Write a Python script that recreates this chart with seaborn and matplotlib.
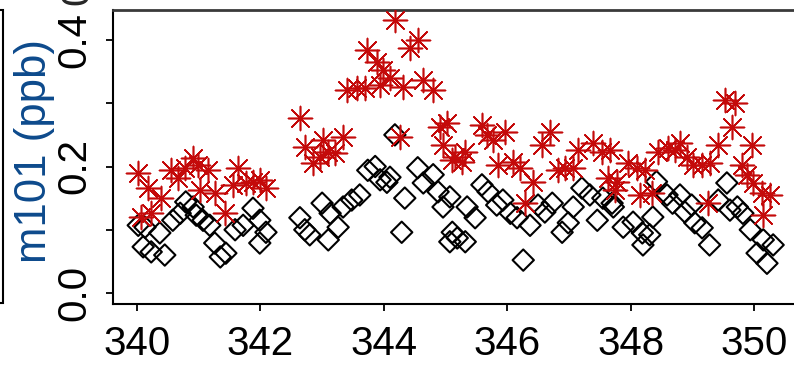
import numpy as np
import pandas as pd
import matplotlib
matplotlib.use("Agg")
import matplotlib.pyplot as plt
from matplotlib.patches import Rectangle
import seaborn as sns

# ---- data ----
red_x = [340.02, 340.06, 340.18, 340.23, 340.39, 340.55, 340.66, 340.78, 340.91, 340.99,
         341.02, 341.15, 341.26, 341.43, 341.56, 341.64, 341.77, 341.88, 341.99, 342.09,
         342.64, 342.72, 342.85, 342.97, 343.01, 343.10, 343.21, 343.34, 343.40, 343.57,
         343.70, 343.73, 343.89, 343.94, 343.99, 344.10, 344.18, 344.26, 344.31, 344.42,
         344.55, 344.64, 344.80, 344.91, 344.96, 345.02, 345.11, 345.15, 345.27, 345.32,
         345.59, 345.67, 345.77, 345.85, 345.96, 346.09, 346.21, 346.29, 346.42, 346.56,
         346.69, 346.82, 346.93, 347.07, 347.15, 347.39, 347.54, 347.63, 347.67, 347.75,
         347.78, 347.96, 348.10, 348.15, 348.23, 348.35, 348.44, 348.61, 348.72, 348.80,
         348.91, 349.01, 349.16, 349.25, 349.28, 349.42, 349.53, 349.64, 349.69, 349.81,
         349.89, 349.97, 349.98, 350.13, 350.15, 350.26]
red_y = [0.190, 0.120, 0.166, 0.126, 0.150, 0.194, 0.182, 0.198, 0.213, 0.202,
         0.163, 0.194, 0.158, 0.126, 0.171, 0.198, 0.174, 0.175, 0.179, 0.166,
         0.277, 0.231, 0.205, 0.215, 0.242, 0.223, 0.221, 0.247, 0.321, 0.324,
         0.324, 0.384, 0.365, 0.329, 0.353, 0.340, 0.432, 0.247, 0.326, 0.387,
         0.400, 0.337, 0.321, 0.262, 0.234, 0.269, 0.210, 0.215, 0.207, 0.223,
         0.266, 0.250, 0.242, 0.202, 0.255, 0.207, 0.198, 0.142, 0.175, 0.234,
         0.255, 0.194, 0.198, 0.198, 0.226, 0.237, 0.223, 0.182, 0.226, 0.163,
         0.176, 0.205, 0.198, 0.155, 0.194, 0.158, 0.223, 0.229, 0.226, 0.237,
         0.215, 0.202, 0.202, 0.142, 0.205, 0.234, 0.305, 0.262, 0.300, 0.202,
         0.187, 0.234, 0.174, 0.158, 0.123, 0.155]

black_x = [340.02, 340.10, 340.13, 340.23, 340.37, 340.45, 340.58, 340.70, 340.79, 340.91,
           340.96, 341.07, 341.18, 341.26, 341.35, 341.44, 341.59, 341.72, 341.88, 341.99,
           341.99, 342.09,
           342.64, 342.72, 342.80, 343.00, 343.10, 343.13, 343.26, 343.34, 343.48, 343.61,
           343.74, 343.86, 343.94, 344.05, 344.10, 344.18, 344.29, 344.34, 344.55, 344.64,
           344.80, 344.88, 344.96, 345.07, 345.07, 345.11, 345.19, 345.32, 345.35, 345.48,
           345.59, 345.69, 345.83, 345.93, 346.05, 346.16, 346.26, 346.37, 346.50, 346.61,
           346.73, 346.89, 346.99, 347.07, 347.21, 347.34, 347.46, 347.55, 347.70, 347.72,
           347.88, 348.04, 348.19, 348.20, 348.31, 348.36, 348.42, 348.59, 348.68, 348.80,
           348.88, 348.99, 349.04, 349.16, 349.28, 349.42, 349.56, 349.61, 349.73, 349.82,
           349.94, 350.05, 350.15, 350.21, 350.31]
black_y = [0.107, 0.073, 0.104, 0.065, 0.095, 0.060, 0.115, 0.126, 0.144, 0.136,
           0.123, 0.115, 0.107, 0.079, 0.057, 0.063, 0.100, 0.107, 0.134, 0.115,
           0.079, 0.096,
           0.119, 0.100, 0.092, 0.142, 0.084, 0.126, 0.104, 0.136, 0.147, 0.155,
           0.194, 0.200, 0.179, 0.175, 0.183, 0.250, 0.096, 0.150, 0.198, 0.174,
           0.187, 0.160, 0.136, 0.081, 0.152, 0.096, 0.087, 0.081, 0.136, 0.119,
           0.171, 0.160, 0.139, 0.147, 0.126, 0.119, 0.052, 0.107, 0.139, 0.128,
           0.142, 0.096, 0.111, 0.136, 0.166, 0.155, 0.115, 0.150, 0.142, 0.136,
           0.104, 0.112, 0.095, 0.076, 0.092, 0.120, 0.176, 0.155, 0.142, 0.155,
           0.128, 0.139, 0.111, 0.103, 0.076, 0.147, 0.174, 0.131, 0.136, 0.126,
           0.100, 0.063, 0.084, 0.047, 0.076]

x_ticks = [340, 342, 344, 346, 348, 350]
y_ticks = [0.0, 0.1, 0.2, 0.3, 0.4]
y_tick_labels = ["0.0", "", "0.2", "", "0.4"]
y_label = "m101 (ppb)"

red_df = pd.DataFrame({"x": red_x, "y": red_y})
black_df = pd.DataFrame({"x": black_x, "y": black_y})

# ---- figure ----
sns.set_style("ticks")
plt.rcParams["font.family"] = ["Liberation Sans", "DejaVu Sans"]

W, H = 794, 367
fig = plt.figure(figsize=(W / 100, H / 100), dpi=100)
left_px, right_px, top_px, bot_px = 113, 800, 10, 304
ax = fig.add_axes([left_px / W, 1 - bot_px / H, (right_px - left_px) / W, (bot_px - top_px) / H])

sns.scatterplot(data=black_df, x="x", y="y", ax=ax, marker="D", s=118,
                facecolors="none", edgecolor="black", linewidth=1.5, zorder=3)
sns.scatterplot(data=red_df, x="x", y="y", ax=ax, marker=(8, 2, 0), s=300,
                color="#c40a0a", linewidth=1.15, zorder=4)

ax.set_xlim(340 + (left_px - 137) / 61.7, 340 + (right_px - 137) / 61.7)
ax.set_ylim((293 - bot_px) / 632.5, (293 - top_px) / 632.5)

ax.set_xticks(x_ticks)
ax.set_xticklabels([str(t) for t in x_ticks], fontsize=29)
ax.set_yticks(y_ticks)
ax.set_yticklabels(y_tick_labels, fontsize=29, rotation=90, va="center")
ax.tick_params(axis="x", direction="out", length=5, width=1.3, pad=10, colors="black")
ax.tick_params(axis="y", direction="out", length=5, width=1.3, pad=9, colors="black")

for s in ["left", "bottom"]:
    ax.spines[s].set_linewidth(1.5)
    ax.spines[s].set_color("black")
ax.spines["top"].set_visible(True)
ax.spines["top"].set_linewidth(2.0)
ax.spines["top"].set_color("#3a3a3a")
ax.spines["right"].set_visible(False)

ax.set_xlabel("")
ax.set_ylabel(y_label, fontsize=31.5, color="#0d4a8c", va="center")
ax.yaxis.set_label_coords((35 - left_px) / (right_px - left_px), 0.52)

# remnants of neighbouring panels
fig.patches.append(Rectangle((-0.05, 1 - 303 / H), 0.05 + 3 / W, (303 - 10) / H,
                             transform=fig.transFigure, fill=False, edgecolor="black",
                             linewidth=1.5))
fig.text(77 / W, 1 + 6 / H, "0", rotation=90, fontsize=29, ha="center", va="center")

fig.savefig("out.png", dpi=100)
